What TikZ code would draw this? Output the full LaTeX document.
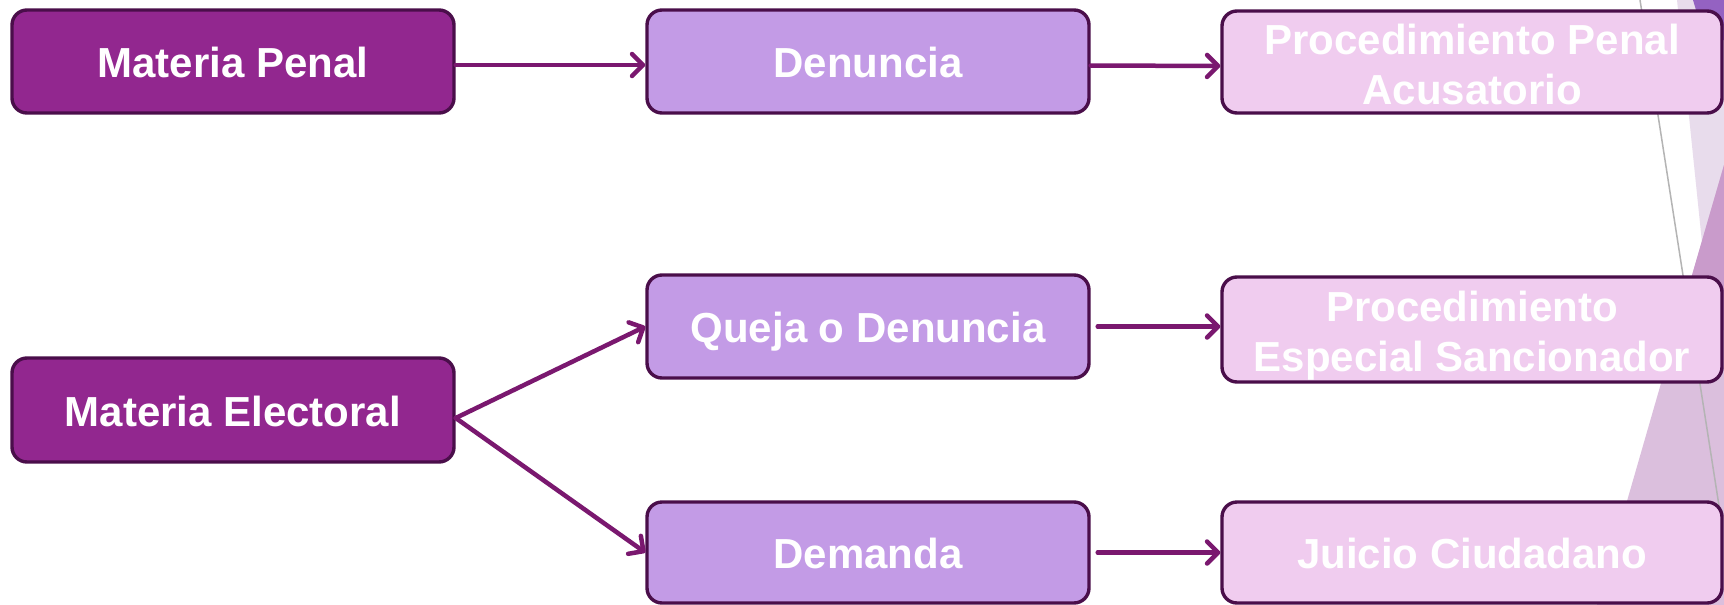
\documentclass[tikz,border=0pt]{standalone}
\usepackage{fontspec}
\setmainfont{Liberation Sans}
\usetikzlibrary{arrows.meta}
\definecolor{darkbox}{HTML}{92278F}
\definecolor{midbox}{HTML}{C39BE6}
\definecolor{lightbox}{HTML}{F0CCEF}
\definecolor{edgecol}{HTML}{4A0E4A}
\definecolor{arrowcol}{HTML}{7A186F}
\definecolor{bgline}{HTML}{B4B4B4}
\definecolor{bgdark}{HTML}{9462C2}
\definecolor{bglight}{HTML}{E8DCEC}
\definecolor{bgpink}{HTML}{C99BCB}
\definecolor{bgmauve}{HTML}{DBBFDD}
\newcommand\lowertext[2]{\raisebox{-#1}[\height][\depth]{#2}}
\newcommand\twolines[2]{\lowertext{7pt}{\begin{tabular}{@{}c@{}}#1\\#2\end{tabular}}}
\tikzset{
  box/.style={draw=edgecol, line width=3.4pt, rounded corners=15pt,
    minimum width=442pt, minimum height=103pt, inner sep=0pt,
    text=white,
    font=\fontsize{42}{50}\selectfont\bfseries},
  oneline/.style={text height=36pt, text depth=4pt},
  leftbox/.style={box, oneline, fill=darkbox},
  midboxst/.style={box, oneline, fill=midbox},
  rightbox/.style={box, fill=lightbox, minimum width=500pt},
  conn/.style={draw=arrowcol, line width=4.5pt, line cap=round,
    -{Straight Barb[length=11pt,width=22pt,line cap=round,line join=round]}}
}
\begin{document}
\begin{tikzpicture}[x=1pt,y=-1pt]
\useasboundingbox (0,0) rectangle (1724,605);
\clip (0,0) rectangle (1724,605);
\fill[white] (0,0) rectangle (1724,605);
% background decoration
\fill[bglight] (1677,0) -- (1724,0) -- (1724,330) -- (1711,330) -- cycle;
\fill[bgmauve] (1724,165) -- (1724,605) -- (1597,605) -- cycle;
\fill[bgpink] (1724,165) -- (1724,330) -- (1676,330) -- cycle;
\fill[bgdark] (1693,0) -- (1724,0) -- (1724,40) -- (1705,40) -- cycle;
\draw[bgline, line width=1.5pt] (1640,0) -- (1722,525);
% nodes
\node[leftbox] (mp) at (233,61.5) {Materia Penal};
\node[midboxst] (den) at (868,61.5) {Denuncia};
\node[rightbox, minimum height=102pt] (ppa) at (1472,62) {\twolines{Procedimiento Penal}{Acusatorio}};
\node[midboxst] (qd) at (868,326.5) {Queja o Denuncia};
\node[rightbox, minimum height=105pt] (pes) at (1472,329.5) {\twolines{Procedimiento}{Especial Sancionador}};
\node[leftbox, minimum height=104pt] (me) at (233,410) {Materia Electoral};
\node[midboxst, minimum height=101pt] (dem) at (868,552.5) {Demanda};
\node[rightbox, oneline, minimum height=101pt] (jc) at (1472,552.5) {Juicio Ciudadano};
% connectors
\draw[conn] ([yshift=-3.5pt]mp.east) -- ([yshift=-3.5pt]den.west);
\draw[conn] ([yshift=-4pt]den.east) -- ([yshift=-4pt]ppa.west);
\draw[conn] ([yshift=-8pt]me.east) -- (qd.west);
\draw[conn] ([yshift=-8pt]me.east) -- (dem.west);
\draw[conn, shorten <=7pt] (qd.east) -- (pes.west |- qd.east);
\draw[conn, shorten <=7pt] (dem.east) -- (jc.west);
\end{tikzpicture}
\end{document}
